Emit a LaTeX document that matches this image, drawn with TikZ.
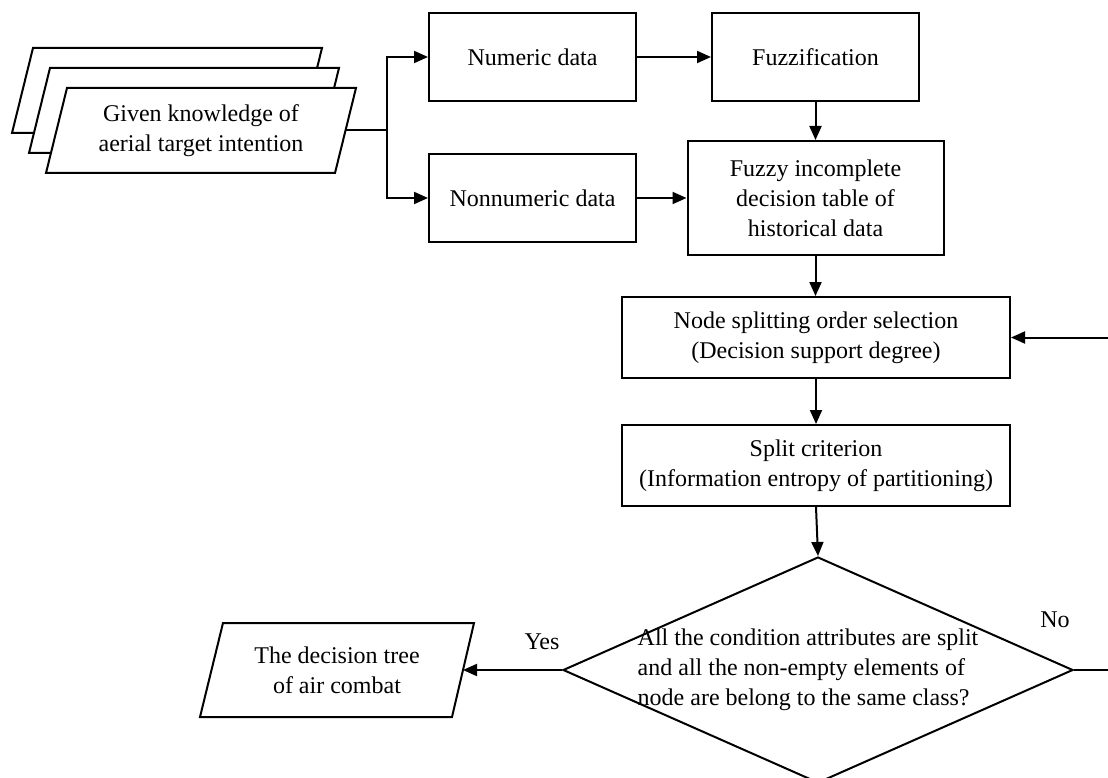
\documentclass[tikz,border=0pt]{standalone}
\usepackage{fontspec}
\setmainfont{Liberation Serif}
\usetikzlibrary{shapes.geometric,arrows.meta}
\tikzset{
  box/.style={draw, line width=2pt, rectangle, inner sep=0pt, align=center},
  para/.style={draw, line width=2pt, fill=white},
  conn/.style={line width=2pt, -{Triangle[length=14pt,width=12pt]}},
  plain/.style={line width=2pt},
  lbl/.style={inner sep=0pt, align=center}
}
\begin{document}
\begin{tikzpicture}[x=1pt, y=-1pt, font=\fontsize{24}{30}\selectfont]
\useasboundingbox (0,0) rectangle (1108,778);
\clip (0,0) rectangle (1108,778);
% stacked input parallelograms
\draw[para] (33,48) -- (322,48) -- (301,133) -- (12,133) -- cycle;
\draw[para] (50,68) -- (339,68) -- (318,153) -- (29,153) -- cycle;
\draw[para] (67,88) -- (356,88) -- (335,173) -- (46,173) -- cycle;
\node[lbl] (given) at (201,131) {Given knowledge of\\aerial target intention};
\coordinate (givenout) at (345.5,130.5);
\coordinate (fork) at (387,130.5);
% boxes
\node[box, minimum width=207pt, minimum height=88pt] (numeric) at (532.5,57) {Numeric data};
\node[box, minimum width=207pt, minimum height=88pt] (fuzzif) at (815.5,57) {Fuzzification};
\node[box, minimum width=207pt, minimum height=88pt] (nonnum) at (532.5,198) {Nonnumeric data};
\node[box, minimum width=256pt, minimum height=114pt] (fuzzy) at (815.5,198) {Fuzzy incomplete\\decision table of\\historical data};
\node[box, minimum width=388pt, minimum height=81pt] (nodesplit) at (816,337.5) {Node splitting order selection\\(Decision support degree)};
\node[box, minimum width=388pt, minimum height=81pt] (split) at (816,465.5) {Split criterion\\(Information entropy of partitioning)};
% decision diamond
\node[diamond, draw, line width=2pt, inner sep=0pt, minimum width=510pt, minimum height=226pt] (dia) at (818,670) {};
\node[lbl, align=left] (diatext) at (808,670) {All the condition attributes are split\\and all the non-empty elements of\\node are belong to the same class?};
% output parallelogram
\draw[para] (223,623) -- (474,623) -- (452,717) -- (200,717) -- cycle;
\node[lbl] (tree) at (337,670) {The decision tree\\of air combat};
\coordinate (treein) at (463,670);
% labels
\node[lbl] (yes) at (542,642) {Yes};
\node[lbl] (no) at (1055,620) {No};
% connectors
\draw[plain] (givenout) -- (fork);
\draw[conn] (fork) |- (numeric.west);
\draw[conn] (fork) |- (nonnum.west);
\draw[conn] (numeric.east) -- (fuzzif.west);
\draw[conn] (nonnum.east) -- (fuzzy.west);
\draw[conn] (fuzzif.south) -- (fuzzy.north);
\draw[conn] (fuzzy.south) -- (fuzzy.south |- nodesplit.north);
\draw[conn] (nodesplit.south) -- (split.north);
\draw[conn] (split.south) -- (dia.north);
\draw[conn] (dia.west) -- (treein);
\draw[conn] (dia.east) -- (1120,670) |- (nodesplit.east);
\end{tikzpicture}
\end{document}
